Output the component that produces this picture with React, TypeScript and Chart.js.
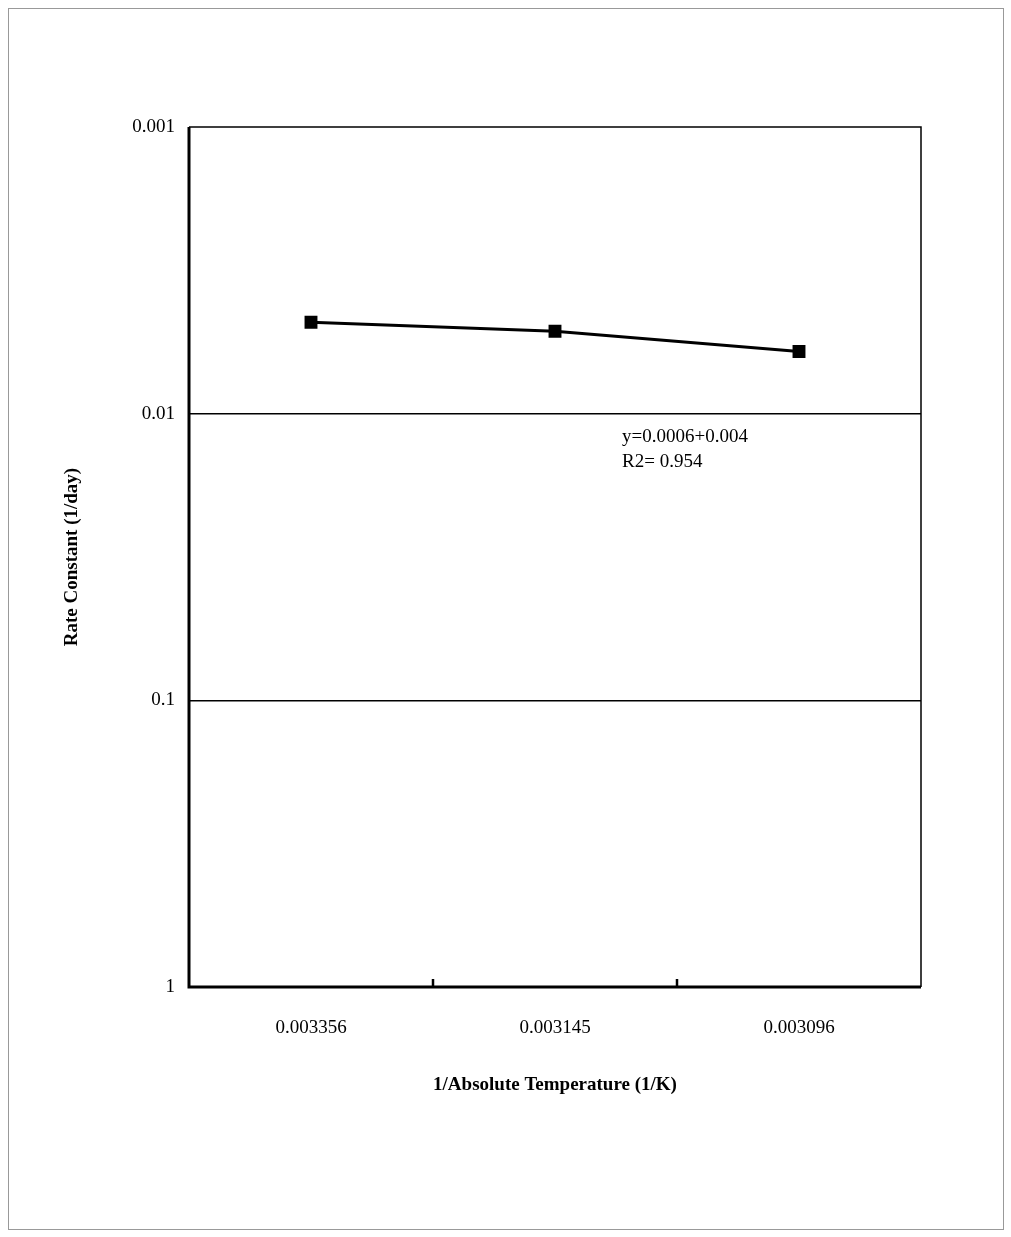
import React, { useEffect, useRef } from 'react';
import { Chart, registerables } from 'chart.js';

Chart.register(...registerables);

const categories = ['0.003356', '0.003145', '0.003096'];
const rateValues = [0.0048, 0.00516, 0.00607];
const yTicks = [0.001, 0.01, 0.1, 1];
const yTickLabels = ['0.001', '0.01', '0.1', '1'];
const annotationLines = ['y=0.0006+0.004', 'R2= 0.954'];

const FONT = '"Liberation Serif", "Times New Roman", serif';

const framePlugin = {
    id: 'frame',
    afterDraw(chart: any) {
        const { ctx, chartArea: a } = chart;
        ctx.save();
        ctx.strokeStyle = '#000';
        ctx.lineWidth = 1.5;
        ctx.beginPath();
        ctx.moveTo(a.left, a.top);
        ctx.lineTo(a.right, a.top);
        ctx.lineTo(a.right, a.bottom);
        ctx.stroke();
        ctx.lineWidth = 3;
        ctx.beginPath();
        ctx.moveTo(a.left, a.top);
        ctx.lineTo(a.left, a.bottom);
        ctx.lineTo(a.right, a.bottom);
        ctx.stroke();
        // x tick marks between categories, pointing inward
        const x = chart.scales.x;
        ctx.lineWidth = 2.5;
        for (let i = 1; i < categories.length; i++) {
            const px = (x.getPixelForValue(i - 1) + x.getPixelForValue(i)) / 2;
            ctx.beginPath();
            ctx.moveTo(px, a.bottom);
            ctx.lineTo(px, a.bottom - 8);
            ctx.stroke();
        }
        ctx.fillStyle = '#000';
        ctx.font = `19px ${FONT}`;
        ctx.textAlign = 'left';
        ctx.textBaseline = 'middle';
        ctx.fillText(annotationLines[0], 622, 437);
        ctx.fillText(annotationLines[1], 622, 462);
        ctx.font = `bold 19px ${FONT}`;
        ctx.textAlign = 'center';
        ctx.fillText('1/Absolute Temperature (1/K)', (a.left + a.right) / 2, 1085);
        ctx.translate(72, (a.top + a.bottom) / 2);
        ctx.rotate(-Math.PI / 2);
        ctx.fillText('Rate Constant (1/day)', 0, 0);
        ctx.restore();
    },
};

export default function App() {
    const canvasRef = useRef<HTMLCanvasElement>(null);

    useEffect(() => {
        if (!canvasRef.current) return;
        const chart = new Chart(canvasRef.current, {
            type: 'line',
            data: {
                labels: categories,
                datasets: [{
                    data: rateValues,
                    borderColor: '#000',
                    backgroundColor: '#000',
                    borderWidth: 3,
                    pointStyle: 'rect',
                    pointRadius: 7,
                    tension: 0,
                }],
            },
            options: {
                animation: false,
                responsive: false,
                layout: { padding: { top: 127, right: 90, left: 0, bottom: 0 } },
                plugins: { legend: { display: false }, tooltip: { enabled: false } },
                scales: {
                    x: {
                        offset: true,
                        grid: { display: false },
                        border: { display: false },
                        ticks: { color: '#000', font: { family: FONT, size: 19 }, padding: 22 },
                        afterFit: (s: any) => { s.height = 250; },
                    },
                    y: {
                        type: 'logarithmic',
                        reverse: true,
                        min: 0.001,
                        max: 1,
                        border: { display: false },
                        afterBuildTicks: (s: any) => { s.ticks = yTicks.map(v => ({ value: v })); },
                        grid: {
                            drawTicks: false,
                            lineWidth: 1.5,
                            color: (c: any) => (c.tick && (c.tick.value === 0.01 || c.tick.value === 0.1) ? '#000' : 'rgba(0,0,0,0)'),
                        },
                        ticks: {
                            color: '#000',
                            font: { family: FONT, size: 19 },
                            padding: 14,
                            callback: (v: any) => yTickLabels[yTicks.indexOf(Number(v))] ?? '',
                        },
                        afterFit: (s: any) => { s.width = 189; },
                    },
                },
            },
            plugins: [framePlugin],
        });
        return () => chart.destroy();
    }, []);

    return (
        <div style={{ position: 'fixed', left: 0, top: 0, width: 1011, height: 1237, background: '#fff' }}>
            <div style={{ position: 'absolute', left: 8, top: 8, width: 994, height: 1220, border: '1px solid #999' }} />
            <canvas ref={canvasRef} width={1011} height={1237} style={{ position: 'absolute', left: 0, top: 0 }} />
        </div>
    );
}
